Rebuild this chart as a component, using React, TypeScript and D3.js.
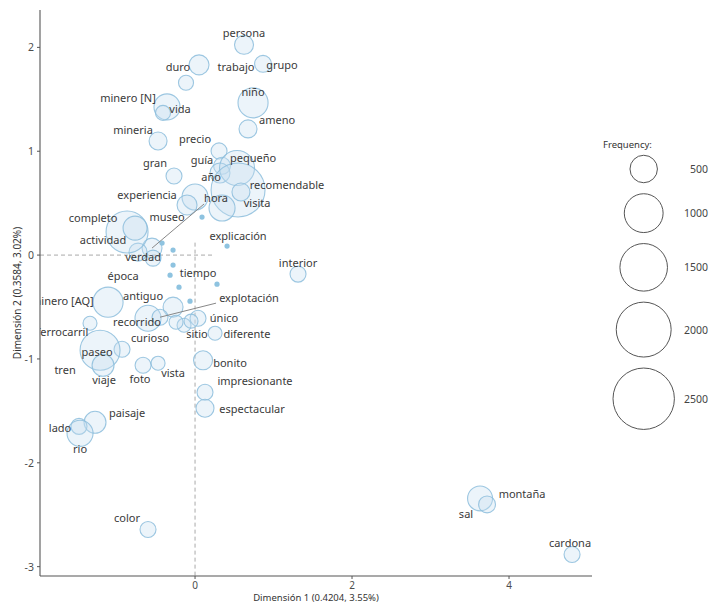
import React from "react";
import * as d3 from "d3";

// ---- data ----
const terms = [
  "persona", "trabajo", "duro", "grupo", "niño", "ameno", "minero [N]", "vida", "mineria",
  "precio", "gran", "guía", "año", "pequeño", "recomendable", "", "visita", "experiencia",
  "museo", "hora", "verdad", "", "completo", "actividad", "minero [AQ]", "antiguo", "recorrido",
  "explotación", "único", "sitio", "", "", "diferente", "ferrocarril", "curioso", "paseo",
  "viaje", "foto", "vista", "bonito", "impresionante", "espectacular", "paisaje", "lado", "rio",
  "color", "montaña", "sal", "cardona", "interior", "tren",
];
const dim1 = [
  0.624, 0.051, -0.115, 0.866, 0.739, 0.675, -0.357, -0.408, -0.471,
  0.306, -0.268, 0.344, 0.318, 0.535, 0.548, 0.585, 0.344, 0.0,
  -0.102, -0.548, -0.535, -0.726, -0.866, -0.764, -1.108, -0.28, -0.599,
  -0.446, 0.038, -0.14, -0.242, -0.051, 0.255, -1.338, -0.93, -1.21,
  -1.172, -0.662, -0.471, 0.102, 0.127, 0.127, -1.274, -1.478, -1.465,
  -0.599, 3.631, 3.72, 4.803, 1.312, -1.3,
];
const dim2 = [
  2.025, 1.832, 1.659, 1.842, 1.466, 1.215, 1.427, 1.369, 1.099,
  1.003, 0.762, 0.86, 0.791, 0.839, 0.627, 0.608, 0.453, 0.559,
  0.482, 0.0675, -0.029, 0.029, 0.222, 0.26, -0.453, -0.501, -0.608,
  -0.598, -0.608, -0.675, -0.646, -0.636, -0.752, -0.656, -0.906, -0.916,
  -1.061, -1.061, -1.041, -1.013, -1.321, -1.475, -1.61, -1.649, -1.716,
  -2.642, -2.343, -2.401, -2.883, -0.183, -0.98,
];
const frequency = [
  240, 265, 150, 190, 600, 215, 450, 150, 215,
  170, 170, 190, 265, 812, 1930, 215, 450, 450,
  265, 265, 170, 215, 1170, 382, 600, 265, 450,
  170, 170, 130, 130, 130, 130, 130, 170, 1060,
  320, 170, 130, 240, 170, 215, 320, 170, 450,
  170, 414, 190, 170, 170, 0,
];
// label anchor positions (in dimension units) as placed in the reference
const labelDim1 = [
  0.624, 0.522, -0.217, 1.108, 0.739, 1.045, -0.854, -0.191, -0.79,
  0.0, -0.51, 0.089, 0.204, 0.739, 1.172, 0, 0.79, -0.611,
  -0.357, 0.268, -0.662, 0, -1.299, -1.172, -1.69, -0.662, -0.739,
  0.688, 0.369, 0.025, 0, 0, 0.662, -1.69, -0.573, -1.248,
  -1.159, -0.701, -0.28, 0.446, 0.764, 0.726, -0.866, -1.72, -1.465,
  -0.866, 4.166, 3.452, 4.777, 1.312, -1.656,
];
const labelDim2 = [
  2.14, 1.813, 1.813, 1.832, 1.572, 1.302, 1.514, 1.408, 1.205,
  1.119, 0.887, 0.916, 0.752, 0.935, 0.675, 0, 0.511, 0.579,
  0.376, 0.55, -0.01, 0, 0.366, 0.154, -0.434, -0.386, -0.636,
  -0.405, -0.598, -0.752, 0, 0, -0.752, -0.733, -0.791, -0.926,
  -1.196, -1.186, -1.128, -1.032, -1.205, -1.475, -1.514, -1.659, -1.861,
  -2.526, -2.295, -2.488, -2.768, -0.068, -1.099,
];
const connectedTerms = ["hora", "explotación"];

const minorDim1 = [0.089, 0.408, -0.42, -0.28, -0.28, -0.318, -0.204, 0.28, -0.064];
const minorDim2 = [0.366, 0.087, 0.116, 0.048, -0.096, -0.193, -0.309, -0.28, -0.444];
const minorTerms = ["", "explicación", "", "", "", "época", "", "", ""];
const minorLabelDim1 = [0, 0.548, 0, 0, 0, -0.917, 0, 0, 0];
const minorLabelDim2 = [0, 0.193, 0, 0, 0, -0.193, 0, 0, 0];
const tiempoLabel = { text: "tiempo", d1: 0.038, d2: -0.164 };

const legendValues = [500, 1000, 1500, 2000, 2500];
const xTicks = [0, 2, 4];
const yTicks = [-3, -2, -1, 0, 1, 2];
const xTitle = "Dimensión 1  (0.4204,  3.55%)";
const yTitle = "Dimensión 2  (0.3584,  3.02%)";

// ---- layout ----
const W = 712, H = 602;
const PL = 40, PR = 592, PT = 10, PB = 576;
const FONT = "'Noto Sans', 'DejaVu Sans', sans-serif";

export default function App() {
  const x = d3.scaleLinear().domain([-1.975, 5.057]).range([PL, PR]);
  const y = d3.scaleLinear().domain([-3.09, 2.36]).range([PB, PT]);
  const r = d3.scaleSqrt().domain([0, 2500]).range([0, 30.7]);

  const pts = terms.map((t, i) => ({
    t, d1: dim1[i], d2: dim2[i], f: frequency[i], l1: labelDim1[i], l2: labelDim2[i],
  }));
  const charW = 6.0;

  const legendCenters: number[] = [];
  let cy = 169;
  legendValues.forEach((v, i) => {
    if (i > 0) cy += r(legendValues[i - 1]) + r(v) + 11;
    legendCenters.push(cy);
  });

  const textColor = "#3a3a3a";

  return (
    <svg width={W} height={H} style={{ position: "absolute", left: 0, top: 0, background: "#fff" }} fontFamily={FONT}>
      <defs>
        <clipPath id="panel">
          <rect x={PL} y={PT} width={PR - PL} height={PB - PT} />
        </clipPath>
      </defs>
      <g clipPath="url(#panel)">
        {/* reference lines */}
        <line x1={x(-1.975)} x2={x(0.23)} y1={y(0)} y2={y(0)} stroke="#aaa" strokeDasharray="4,3" />
        <line x1={x(0)} x2={x(0)} y1={y(0.12)} y2={y(-3.09)} stroke="#aaa" strokeDasharray="4,3" />
        {/* bubbles */}
        {pts.filter(p => p.f > 0).map((p, i) => (
          <circle key={"c" + i} cx={x(p.d1)} cy={y(p.d2)} r={r(p.f)}
            fill="#c4def0" fillOpacity={0.33} stroke="#8cbddc" strokeOpacity={0.85} strokeWidth={1.1} />
        ))}
        {/* minor points */}
        {minorDim1.map((d, i) => (
          <circle key={"m" + i} cx={x(d)} cy={y(minorDim2[i])} r={2.6} fill="#8ec3e0" />
        ))}
        {/* connectors */}
        {pts.filter(p => connectedTerms.includes(p.t)).map((p, i) => {
          const px = x(p.d1), py = y(p.d2);
          const lx = x(p.l1), ly = y(p.l2);
          const w = p.t.length * charW;
          const ex = Math.max(lx - w / 2, Math.min(px, lx + w / 2));
          const ey = Math.max(ly - 6, Math.min(py, ly + 6));
          return <line key={"s" + i} x1={px} y1={py} x2={ex} y2={ey} stroke="#888" strokeWidth={1} />;
        })}
        {/* labels */}
        {pts.filter(p => p.t !== "").map((p, i) => (
          <text key={"t" + i} x={x(p.l1)} y={y(p.l2)} textAnchor="middle" dominantBaseline="central"
            fontSize={11} fill={textColor}>{p.t}</text>
        ))}
        {minorTerms.map((t, i) => t ? (
          <text key={"mt" + i} x={x(minorLabelDim1[i])} y={y(minorLabelDim2[i])} textAnchor="middle"
            dominantBaseline="central" fontSize={11} fill={textColor}>{t}</text>
        ) : null)}
        <text x={x(tiempoLabel.d1)} y={y(tiempoLabel.d2)} textAnchor="middle" dominantBaseline="central"
          fontSize={11} fill={textColor}>{tiempoLabel.text}</text>
      </g>

      {/* axes */}
      <line x1={PL} x2={PL} y1={PT} y2={PB} stroke="#555" strokeWidth={1.1} />
      <line x1={PL} x2={PR} y1={PB} y2={PB} stroke="#555" strokeWidth={1.1} />
      {yTicks.map(t => (
        <g key={"yt" + t}>
          <line x1={PL - 3} x2={PL} y1={y(t)} y2={y(t)} stroke="#555" />
          <text x={PL - 6} y={y(t)} textAnchor="end" dominantBaseline="central" fontSize={10.5} fill="#4d4d4d">{t}</text>
        </g>
      ))}
      {xTicks.map(t => (
        <g key={"xt" + t}>
          <line x1={x(t)} x2={x(t)} y1={PB} y2={PB + 3} stroke="#555" />
          <text x={x(t)} y={PB + 8.5} textAnchor="middle" dominantBaseline="central" fontSize={10} fill="#4d4d4d">{t}</text>
        </g>
      ))}
      <text x={(PL + PR) / 2} y={597} textAnchor="middle" dominantBaseline="central" fontSize={9.5} fill="#333">{xTitle}</text>
      <text transform={`translate(17,${(PT + PB) / 2}) rotate(-90)`} textAnchor="middle" dominantBaseline="central"
        fontSize={10} fill="#333">{yTitle}</text>

      {/* legend */}
      <text x={603} y={144} dominantBaseline="central" fontSize={9.5} fill="#333">Frequency:</text>
      {legendValues.map((v, i) => (
        <g key={"lg" + v}>
          <circle cx={643.7} cy={legendCenters[i]} r={r(v)} fill="none" stroke="#555" strokeWidth={1} />
          <text x={708} y={legendCenters[i]} textAnchor="end" dominantBaseline="central" fontSize={10.5} fill="#444">{v}</text>
        </g>
      ))}
    </svg>
  );
}
